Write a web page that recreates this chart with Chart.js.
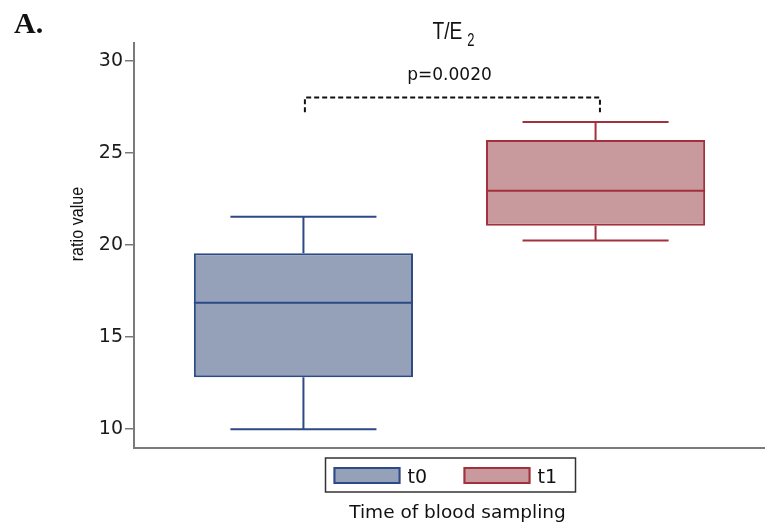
<!DOCTYPE html>
<html>
<head>
<meta charset="utf-8">
<script src="https://cdn.jsdelivr.net/npm/chart.js@4.4.0/dist/chart.umd.min.js"></script>
<style>
html,body{margin:0;padding:0;background:#fff;}
#wrap{width:765px;height:532px;position:relative;}
</style>
</head>
<body>
<div id="wrap"><canvas id="boxChart"></canvas></div>
<script>
(function(){
'use strict';

// Werte
var gruppen = ['t0', 't1'];
var gruppenX = [1, 2];
var minWerte = [9.97, 20.22];
var q1Werte = [12.79, 21.03];
var medianWerte = [16.85, 22.93];
var q3Werte = [19.53, 25.69];
var maxWerte = [21.52, 26.67];
var yTicks = [10, 15, 20, 25, 30];
var pText = 'p=0.0020';
var klammerX = [1.005, 2.015];
var klammerY = [27.2, 28.0];
var pTextY = 29.2;

var FUELL = ['#94a1b9', '#c8999d'];
var RAND = ['#2d4a86', '#a2303d'];
var ACHSE = '#7a7a7a';
var SANS = '"Liberation Sans", Arial, sans-serif';
var WIDE = '"DejaVu Sans", sans-serif';

// schmal gezeichneter Text (Original wirkt gestaucht)
function schmalText(ctx, text, x, y, groesse, faktor, align){
  ctx.save();
  ctx.translate(x, y);
  ctx.scale(faktor, 1);
  ctx.font = groesse + 'px ' + SANS;
  ctx.textAlign = align || 'left';
  ctx.fillText(text, 0, 0);
  ctx.restore();
}

var datasets = gruppen.map(function(g, i){
  return {
    label: g,
    data: [{x: gruppenX[i], y: [q1Werte[i], q3Werte[i]]}],
    backgroundColor: FUELL[i],
    borderColor: RAND[i],
    borderWidth: 2,
    borderSkipped: false,
    grouped: false,
    categoryPercentage: 1,
    barPercentage: 0.75
  };
});

var boxPlugin = {
  id: 'boxplotExtras',
  afterDatasetsDraw: function(chart){
    var ctx = chart.ctx, ys = chart.scales.y, xs = chart.scales.x;
    chart.data.datasets.forEach(function(ds, i){
      var bar = chart.getDatasetMeta(i).data[0];
      var cx = bar.x, halb = bar.width/2, kappe = bar.width/3;
      var ym = ys.getPixelForValue(medianWerte[i]);
      var yq1 = ys.getPixelForValue(q1Werte[i]);
      var yq3 = ys.getPixelForValue(q3Werte[i]);
      var yo = ys.getPixelForValue(maxWerte[i]);
      var yu = ys.getPixelForValue(minWerte[i]);
      ctx.save();
      ctx.strokeStyle = RAND[i];
      ctx.lineWidth = 2;
      ctx.beginPath();
      ctx.moveTo(cx-halb, ym); ctx.lineTo(cx+halb, ym);
      ctx.moveTo(cx, yq3); ctx.lineTo(cx, yo);
      ctx.moveTo(cx-kappe, yo); ctx.lineTo(cx+kappe, yo);
      ctx.moveTo(cx, yq1); ctx.lineTo(cx, yu);
      ctx.moveTo(cx-kappe, yu); ctx.lineTo(cx+kappe, yu);
      ctx.stroke();
      ctx.restore();
    });

    // Signifikanz-Klammer
    var xa = xs.getPixelForValue(klammerX[0]), xb = xs.getPixelForValue(klammerX[1]);
    var yTief = ys.getPixelForValue(klammerY[0]), yHoch = ys.getPixelForValue(klammerY[1]);
    ctx.save();
    ctx.strokeStyle = '#111';
    ctx.lineWidth = 2;
    ctx.setLineDash([5, 3]);
    ctx.beginPath();
    ctx.moveTo(xa, yTief); ctx.lineTo(xa, yHoch); ctx.lineTo(xb, yHoch); ctx.lineTo(xb, yTief);
    ctx.stroke();
    ctx.restore();

    ctx.save();
    ctx.fillStyle = '#111';
    ctx.font = '17px ' + WIDE;
    ctx.textAlign = 'center';
    ctx.textBaseline = 'middle';
    ctx.fillText(pText, xs.getPixelForValue((gruppenX[0]+gruppenX[1])/2), ys.getPixelForValue(pTextY));
    ctx.restore();
  },
  afterDraw: function(chart){
    var ctx = chart.ctx, ca = chart.chartArea;
    var mitte = (ca.left + ca.right)/2;
    ctx.save();
    ctx.fillStyle = '#111';

    // Panel-Buchstabe
    ctx.font = 'bold 30px "Liberation Serif", "Times New Roman", serif';
    ctx.textAlign = 'left';
    ctx.textBaseline = 'alphabetic';
    ctx.fillText('A.', 14, 33);

    // Titel T/E mit tiefgestellter 2
    ctx.font = '24px ' + SANS;
    var w1 = ctx.measureText('T/E').width * 0.8;
    ctx.font = '18px ' + SANS;
    var w2 = ctx.measureText('2').width * 0.72;
    var x0 = mitte + 4 - (w1 + 5 + w2)/2;
    schmalText(ctx, 'T/E', x0, 39, 24, 0.8);
    schmalText(ctx, '2', x0 + w1 + 5, 46, 18, 0.72);

    // y-Achsentitel
    ctx.save();
    ctx.translate(ca.left - 51, ca.top + 181);
    ctx.rotate(-Math.PI/2);
    ctx.scale(0.85, 1);
    ctx.font = '19px ' + SANS;
    ctx.textAlign = 'center';
    ctx.textBaseline = 'alphabetic';
    ctx.fillText('ratio value', 0, 0);
    ctx.restore();

    // Legende mit Rahmen
    var lb = 250, lh = 34, lx = mitte - lb/2 + 1, ly = ca.bottom + 10;
    ctx.strokeStyle = '#333';
    ctx.lineWidth = 1.5;
    ctx.strokeRect(lx, ly, lb, lh);
    ctx.font = '19px ' + WIDE;
    ctx.textAlign = 'left';
    ctx.textBaseline = 'alphabetic';
    gruppen.forEach(function(g, i){
      var sx = lx + 8 + i*130;
      ctx.fillStyle = FUELL[i];
      ctx.fillRect(sx, ly + 9, 67, 17);
      ctx.strokeStyle = RAND[i];
      ctx.lineWidth = 2;
      ctx.strokeRect(sx + 1, ly + 10, 65, 15);
      ctx.fillStyle = '#111';
      ctx.fillText(g, sx + 74, ly + 25);
    });

    // x-Achsentitel
    ctx.font = '18.5px ' + WIDE;
    ctx.textAlign = 'center';
    ctx.fillText('Time of blood sampling', mitte + 8, 518);
    ctx.restore();
  }
};

new Chart(document.getElementById('boxChart').getContext('2d'), {
  type: 'bar',
  data: {datasets: datasets},
  plugins: [boxPlugin],
  options: {
    responsive: true,
    maintainAspectRatio: false,
    animation: false,
    layout: {padding: {top: 43, bottom: 84, left: 0, right: 0}},
    scales: {
      x: {
        type: 'linear',
        min: 0.42,
        max: 2.58,
        offset: false,
        afterFit: function(s){ s.height = 0; },
        afterBuildTicks: function(s){ s.ticks = gruppenX.map(function(v){ return {value: v}; }); },
        ticks: {display: false},
        grid: {display: false},
        border: {display: true, color: ACHSE, width: 2}
      },
      y: {
        min: 8.95,
        max: 30.96,
        afterFit: function(s){ s.width = 134; },
        afterBuildTicks: function(s){ s.ticks = yTicks.map(function(v){ return {value: v}; }); },
        border: {display: true, color: ACHSE, width: 2},
        grid: {display: true, drawOnChartArea: false, drawTicks: true, tickLength: 9, color: ACHSE, lineWidth: 1.5},
        ticks: {padding: 2, color: '#1a1a1a', font: {family: 'DejaVu Sans', size: 19}}
      }
    },
    plugins: {
      legend: {display: false},
      tooltip: {enabled: false}
    }
  }
});

})();
</script>
</body>
</html>
